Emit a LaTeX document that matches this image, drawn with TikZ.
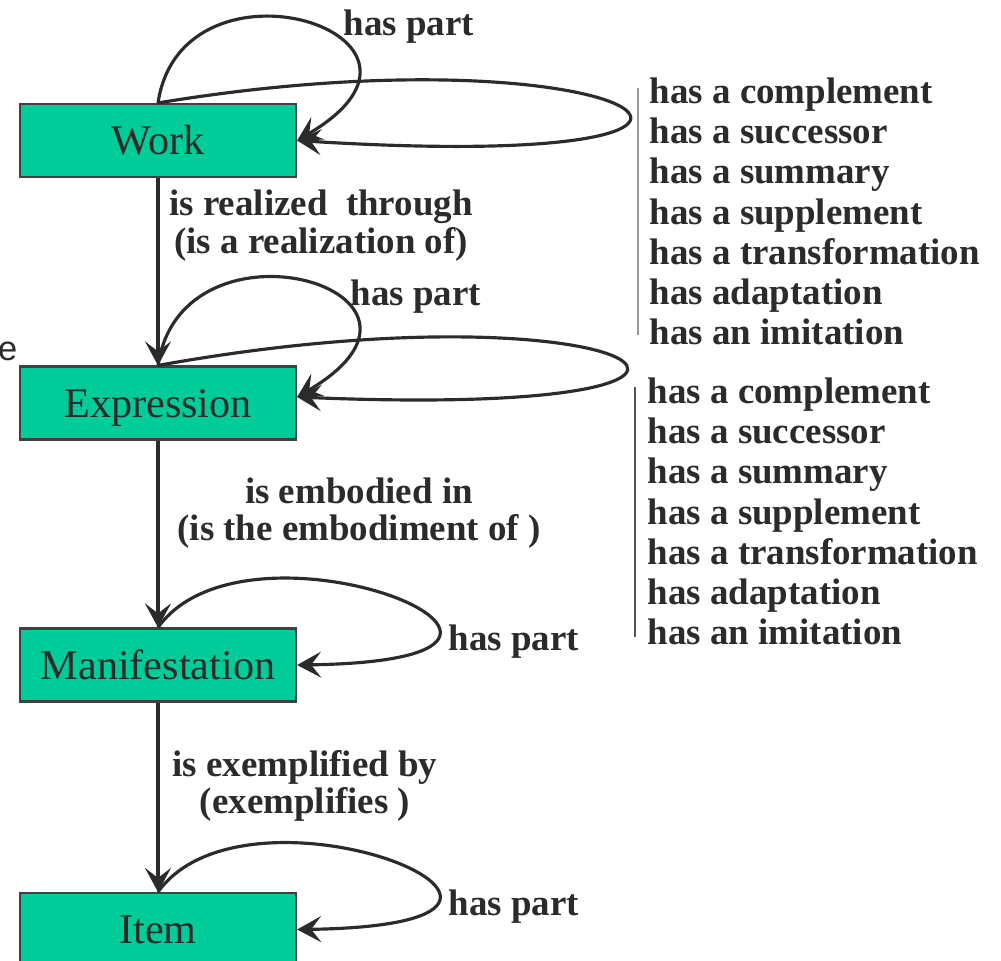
\documentclass[tikz,border=0pt]{standalone}
\usepackage{fontspec}
\setmainfont{Liberation Serif}
\setsansfont{Liberation Sans}
\usetikzlibrary{arrows.meta}

\definecolor{entityfill}{HTML}{00CC99}
\definecolor{inkgray}{HTML}{2B2B2B}

\tikzset{
  entity/.style={draw=inkgray!90, line width=0.6pt, fill=entityfill, text=inkgray,
    minimum width=2.76cm, minimum height=0.73cm, inner sep=0pt,
    text height=8pt, text depth=0pt, font=\fontsize{12}{14}\selectfont},
  rel/.style={inner sep=0pt, text=inkgray, align=center,
    font=\fontsize{10.5}{10.6}\selectfont\bfseries},
  rellist/.style={inner sep=0pt, text=inkgray, align=left, anchor=west,
    font=\fontsize{10.5}{11.43}\selectfont\bfseries},
  link/.style={draw=inkgray, line width=0.9pt,
    -{Stealth[length=0.24cm,width=0.26cm,inset=0.1cm]}},
}

\begin{document}
\begin{tikzpicture}[x=0.01cm, y=-0.01cm]
  \useasboundingbox (0,0) rectangle (1001,960);

  % the four entities
  \node[entity] (work)  at (158,140.5) {Work};
  \node[entity] (expr)  at (158,403)   {Expression};
  \node[entity] (manif) at (158,665)   {Manifestation};
  \node[entity] (item)  at (158,929.5) {Item};

  \node[anchor=base east, inner sep=0pt, text=inkgray, font=\sffamily\fontsize{9.8}{11}\selectfont] (cut) at (18,360) {e};

  % primary relationships
  \draw[link] (work) -- (expr);
  \draw[link] (expr) -- (manif);
  \draw[link] (manif) -- (item);

  \node[rel] (realize) at (321,225.5) {is realized\ \ through\\(is a realization of)};
  \node[rel] (embody)  at (359,513)   {is embodied in\\(is the embodiment of )};
  \node[rel] (exempl)  at (305,786)   {is exemplified by\\(exemplifies )};

  % whole/part loops
  \draw[link] (work.north) .. controls +(24,-160) and +(180,-106) .. (work.east);
  \draw[link] (expr.north) .. controls +(24,-160) and +(180,-106) .. ([yshift=0.06cm]expr.east);
  \draw[link] (manif.north) .. controls +(92,-128) and +(343,-5) .. (manif.east);
  \draw[link] (item.north) .. controls +(92,-128) and +(343,-5) .. (item.east);

  \node[rel, anchor=base west] (wpart) at (343,35)  {has part};
  \node[rel, anchor=base west] (epart) at (350,305) {has part};
  \node[rel, anchor=base west] (mpart) at (448,650) {has part};
  \node[rel, anchor=base west] (ipart) at (448,915) {has part};

  % work-to-work and expression-to-expression loops
  \draw[link] (work.north) .. controls +(478,-79) and +(560,35) .. (work.east);
  \draw[link] (expr.north) .. controls +(482,-87) and +(550,23) .. ([yshift=0.06cm]expr.east);

  \draw[gray!80, line width=0.6pt] (638,88) -- (638,335);
  \node[rellist] (worklist) at (649,211.5) {has a complement\\has a successor\\has a summary\\has a supplement\\has a transformation\\has adaptation\\has an imitation};

  \draw[inkgray!80, line width=0.6pt] (635,387) -- (635,637);
  \node[rellist] (exprlist) at (647,511.5) {has a complement\\has a successor\\has a summary\\has a supplement\\has a transformation\\has adaptation\\has an imitation};
\end{tikzpicture}
\end{document}
